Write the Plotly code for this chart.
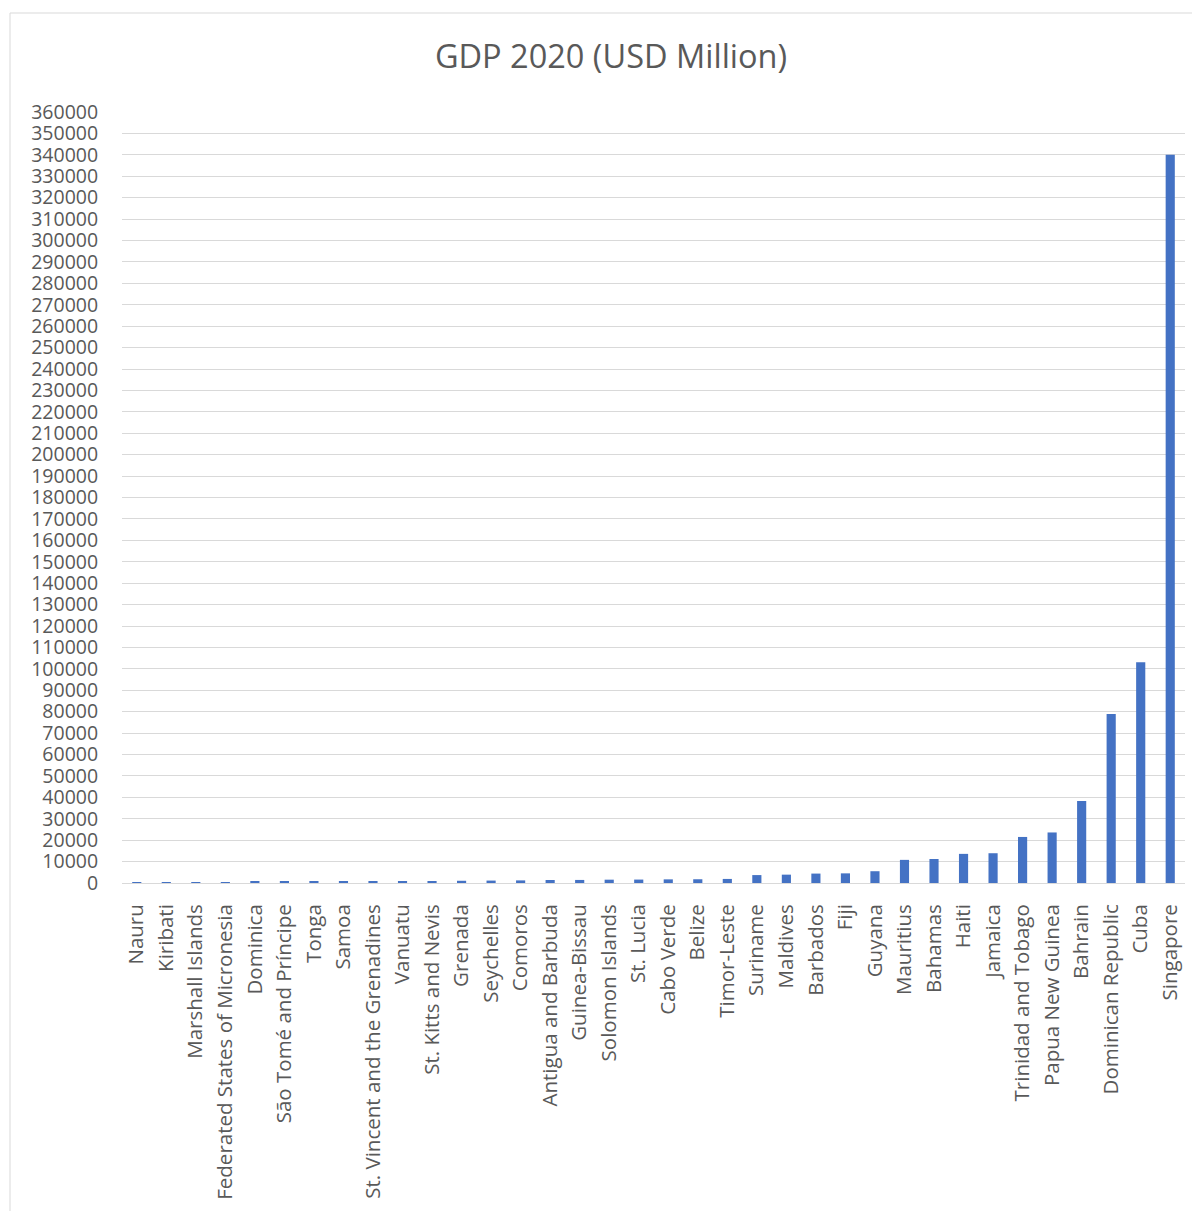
import plotly.graph_objects as go

countries = ["Nauru", "Kiribati", "Marshall Islands", "Federated States of Micronesia", "Dominica",
             "São Tomé and Príncipe", "Tonga", "Samoa", "St. Vincent and the Grenadines", "Vanuatu",
             "St. Kitts and Nevis", "Grenada", "Seychelles", "Comoros", "Antigua and Barbuda",
             "Guinea-Bissau", "Solomon Islands", "St. Lucia", "Cabo Verde", "Belize", "Timor-Leste",
             "Suriname", "Maldives", "Barbados", "Fiji", "Guyana", "Mauritius", "Bahamas", "Haiti",
             "Jamaica", "Trinidad and Tobago", "Papua New Guinea", "Bahrain", "Dominican Republic",
             "Cuba", "Singapore"]
gdp_2020 = [120, 180, 240, 400, 500, 470, 490, 800, 810, 900, 930, 1040, 1130, 1220, 1400,
            1430, 1550, 1600, 1700, 1750, 1900, 3700, 3900, 4400, 4500, 5500, 10800, 11200,
            13600, 13900, 21500, 23600, 38300, 78900, 103100, 340000]

ytick_vals = list(range(0, 360001, 10000))

fig = go.Figure(go.Bar(x=countries, y=gdp_2020, marker=dict(color="#4472C4", line=dict(width=0))))

# page body offset of 8px is compensated
OFF = 8
FW, FH = 1200 - OFF, 1211 - OFF
L, T, W, H = 122 - OFF, 112 - OFF, 1063, 771
fig.update_layout(
    width=FW, height=FH,
    margin=dict(l=L, r=FW - L - W, t=T, b=FH - T - H, pad=0),
    paper_bgcolor="white", plot_bgcolor="white",
    font=dict(family="Open Sans, sans-serif", color="#595959", size=20),
    title=dict(text="GDP 2020 (USD Million)", x=(611 - OFF) / FW, xanchor="center",
               y=1 - (57 - OFF) / FH, yanchor="middle", font=dict(size=32.5, color="#595959")),
    bargap=0.69,
    showlegend=False,
    xaxis=dict(tickangle=-90, showgrid=False, showline=True, linecolor="#d9d9d9", linewidth=1,
               ticks="outside", ticklen=12, tickcolor="rgba(0,0,0,0)",
               tickfont=dict(size=20.5, color="#595959"), automargin=False),
    yaxis=dict(range=[0, 360000], tickvals=ytick_vals, ticktext=[str(v) for v in ytick_vals],
               showgrid=True, gridcolor="#d9d9d9", gridwidth=1, zeroline=False,
               ticks="outside", ticklen=19, tickcolor="rgba(0,0,0,0)",
               tickfont=dict(size=19.5, color="#595959"), automargin=False),
    shapes=[dict(type="rect", xref="paper", yref="paper",
                 x0=(10 - OFF - L) / W, x1=(1199 - OFF - L) / W,
                 y0=-(1230 - 112 - H) / H, y1=1 + (112 - 13) / H,
                 line=dict(color="#d9d9d9", width=1), fillcolor="rgba(0,0,0,0)", layer="below")],
)

fig.write_html("out.html")
